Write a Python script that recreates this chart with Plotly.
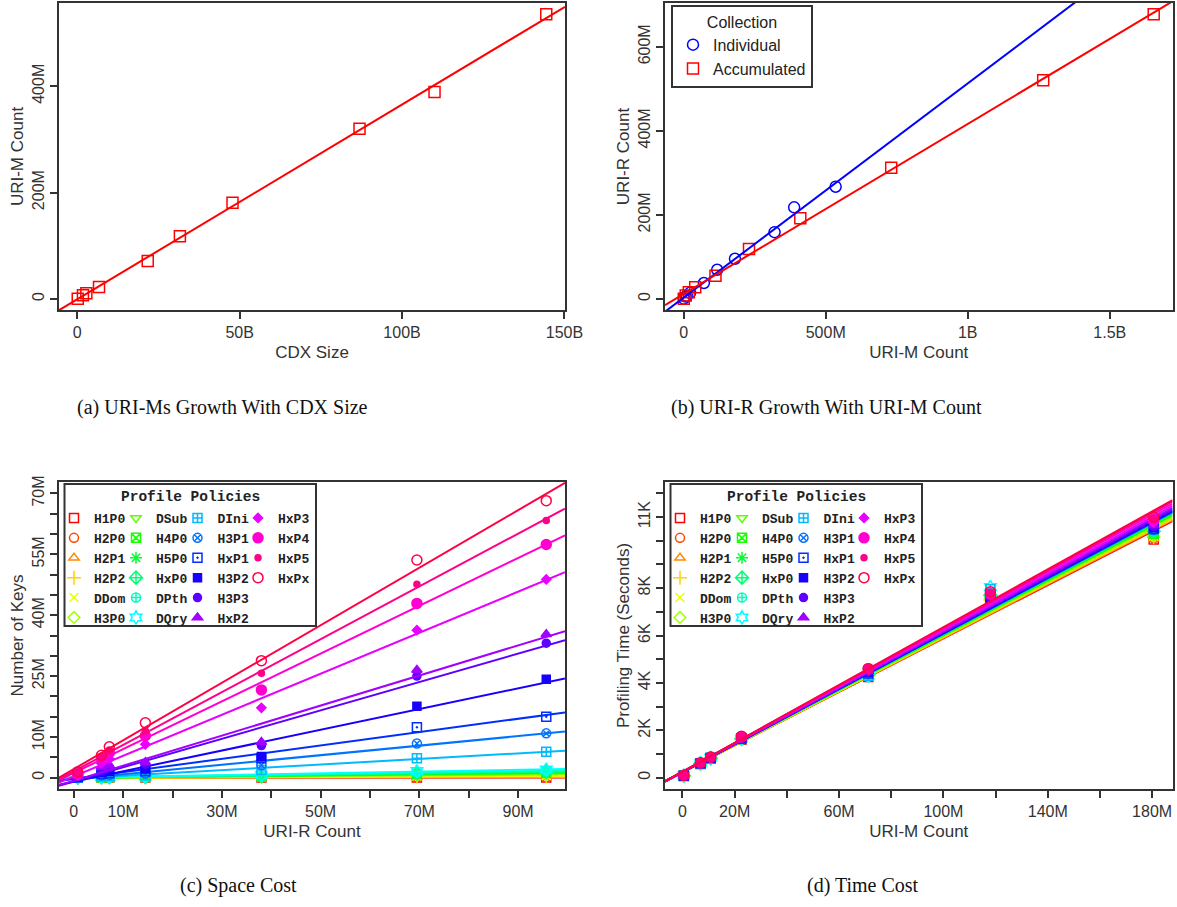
import colorsys
import numpy as np
import plotly.graph_objects as go

W, H = 1177, 907

# ---------------- (a) URI-Ms growth with CDX size ----------------
CDX_SIZE_B = [0.15, 1.75, 2.8, 6.7, 21.7, 31.6, 47.8, 86.9, 110.0, 144.4]
CDX_URIM_M = [0.5, 6.9, 10.8, 22.6, 71.2, 118.0, 180.6, 320.0, 389.0, 535.0]

# ---------------- (b) URI-R growth with URI-M count ----------------
IND_URIM_M = [0.5, 6.9, 10.8, 22.6, 71.2, 118.0, 180.6, 320.0, 389.0, 535.0]
IND_URIR_M = [0.8, 5.6, 7.2, 14.5, 38.0, 69.5, 95.7, 159.0, 218.0, 267.0]
ACC_URIM_M = [0.5, 7.4, 18.2, 40.8, 112.0, 230.0, 410.6, 730.6, 1265.6, 1654.6]
ACC_URIR_M = [0.8, 8.0, 16.0, 28.0, 55.0, 119.0, 192.0, 312.0, 520.0, 677.0]

# ---------------- (c) Space cost (number of keys, millions) ----------------
SPACE_URIR_M = [0.8, 5.6, 7.2, 14.5, 38.0, 69.5, 95.7]
KEYS_H1P0 = [0.001, 0.003, 0.004, 0.006, 0.01, 0.02, 0.03]
KEYS_H2P0 = [0.001, 0.005, 0.006, 0.01, 0.03, 0.07, 0.1]
KEYS_H2P1 = [0.002, 0.008, 0.01, 0.02, 0.05, 0.12, 0.18]
KEYS_H2P2 = [0.003, 0.01, 0.02, 0.04, 0.08, 0.2, 0.3]
KEYS_DDom = [0.005, 0.02, 0.03, 0.06, 0.12, 0.35, 0.5]
KEYS_H3P0 = [0.01, 0.04, 0.05, 0.1, 0.2, 0.6, 0.8]
KEYS_DSub = [0.01, 0.05, 0.07, 0.12, 0.25, 0.75, 1.0]
KEYS_H4P0 = [0.01, 0.06, 0.08, 0.15, 0.3, 0.9, 1.2]
KEYS_H5P0 = [0.01, 0.07, 0.09, 0.18, 0.35, 1.0, 1.35]
KEYS_HxP0 = [0.01, 0.08, 0.1, 0.2, 0.4, 1.1, 1.5]
KEYS_DPth = [0.02, 0.1, 0.12, 0.25, 0.5, 1.3, 1.7]
KEYS_DQry = [0.02, 0.1, 0.15, 0.3, 0.6, 1.6, 2.0]
KEYS_DIni = [0.03, 0.3, 0.4, 0.6, 1.9, 4.8, 6.4]
KEYS_H3P1 = [0.05, 0.6, 0.7, 1.0, 3.1, 8.4, 10.9]
KEYS_HxP1 = [0.1, 0.9, 1.1, 1.6, 4.8, 12.4, 15.0]
KEYS_H3P2 = [0.15, 1.3, 1.6, 2.1, 5.2, 17.6, 24.2]
KEYS_H3P3 = [0.25, 2.2, 2.6, 3.3, 7.9, 25.0, 33.1]
KEYS_HxP2 = [0.3, 2.6, 3.0, 3.8, 8.8, 26.5, 35.3]
KEYS_HxP3 = [0.5, 3.5, 4.6, 8.2, 17.2, 36.3, 48.8]
KEYS_HxP4 = [0.9, 4.8, 6.2, 10.3, 21.6, 42.9, 57.4]
KEYS_HxP5 = [1.2, 5.2, 6.8, 11.5, 25.7, 47.6, 63.3]
KEYS_HxPx = [1.4, 5.5, 7.6, 13.5, 28.8, 53.6, 68.2]

# ---------------- (d) Time cost (profiling seconds, thousands) ----------------
TIME_URIM_M = [0.5, 6.9, 10.8, 22.6, 71.2, 118.0, 180.6]
TIME_H1P0 = [0.07, 0.58, 0.80, 1.60, 4.25, 7.45, 10.05]
TIME_H2P0 = [0.07, 0.58, 0.80, 1.60, 4.25, 7.50, 10.10]
TIME_H2P1 = [0.07, 0.58, 0.80, 1.60, 4.25, 7.50, 10.10]
TIME_H2P2 = [0.07, 0.59, 0.80, 1.62, 4.30, 7.50, 10.15]
TIME_DDom = [0.07, 0.59, 0.81, 1.62, 4.30, 7.55, 10.20]
TIME_H3P0 = [0.07, 0.59, 0.81, 1.62, 4.30, 7.55, 10.20]
TIME_DSub = [0.08, 0.60, 0.82, 1.63, 4.35, 7.60, 10.30]
TIME_H4P0 = [0.08, 0.60, 0.82, 1.63, 4.35, 7.60, 10.30]
TIME_H5P0 = [0.08, 0.60, 0.82, 1.64, 4.35, 7.65, 10.35]
TIME_HxP0 = [0.08, 0.60, 0.82, 1.64, 4.35, 7.70, 10.40]
TIME_DPth = [0.08, 0.60, 0.83, 1.65, 4.35, 7.80, 10.45]
TIME_DQry = [0.09, 0.61, 0.84, 1.66, 4.30, 8.05, 10.55]
TIME_DIni = [0.09, 0.61, 0.84, 1.66, 4.30, 7.95, 10.50]
TIME_H3P1 = [0.08, 0.60, 0.83, 1.65, 4.40, 7.60, 10.45]
TIME_HxP1 = [0.08, 0.60, 0.83, 1.65, 4.40, 7.60, 10.50]
TIME_H3P2 = [0.08, 0.61, 0.83, 1.65, 4.45, 7.55, 10.55]
TIME_H3P3 = [0.08, 0.61, 0.84, 1.66, 4.45, 7.60, 10.60]
TIME_HxP2 = [0.08, 0.61, 0.84, 1.67, 4.50, 7.65, 10.65]
TIME_HxP3 = [0.09, 0.62, 0.85, 1.70, 4.55, 7.70, 10.75]
TIME_HxP4 = [0.09, 0.62, 0.86, 1.72, 4.60, 7.75, 10.85]
TIME_HxP5 = [0.09, 0.63, 0.86, 1.74, 4.60, 7.80, 10.95]
TIME_HxPx = [0.10, 0.63, 0.87, 1.75, 4.60, 7.85, 11.00]

POLICIES = ["H1P0", "H2P0", "H2P1", "H2P2", "DDom", "H3P0",
            "DSub", "H4P0", "H5P0", "HxP0", "DPth", "DQry",
            "DIni", "H3P1", "HxP1", "H3P2", "H3P3", "HxP2",
            "HxP3", "HxP4", "HxP5", "HxPx"]
KEYS = [KEYS_H1P0, KEYS_H2P0, KEYS_H2P1, KEYS_H2P2, KEYS_DDom, KEYS_H3P0,
        KEYS_DSub, KEYS_H4P0, KEYS_H5P0, KEYS_HxP0, KEYS_DPth, KEYS_DQry,
        KEYS_DIni, KEYS_H3P1, KEYS_HxP1, KEYS_H3P2, KEYS_H3P3, KEYS_HxP2,
        KEYS_HxP3, KEYS_HxP4, KEYS_HxP5, KEYS_HxPx]
TIMES = [TIME_H1P0, TIME_H2P0, TIME_H2P1, TIME_H2P2, TIME_DDom, TIME_H3P0,
         TIME_DSub, TIME_H4P0, TIME_H5P0, TIME_HxP0, TIME_DPth, TIME_DQry,
         TIME_DIni, TIME_H3P1, TIME_HxP1, TIME_H3P2, TIME_H3P3, TIME_HxP2,
         TIME_HxP3, TIME_HxP4, TIME_HxP5, TIME_HxPx]

# ---------------- tick labels ----------------
A_XTICKS, A_XTEXT = [0, 50, 100, 150], ["0", "50B", "100B", "150B"]
A_YTICKS, A_YTEXT = [0, 200, 400], ["0", "200M", "400M"]
B_XTICKS, B_XTEXT = [0, 500, 1000, 1500], ["0", "500M", "1B", "1.5B"]
B_YTICKS, B_YTEXT = [0, 200, 400, 600], ["0", "200M", "400M", "600M"]
C_XTICKS = [0, 10, 20, 30, 40, 50, 60, 70, 80, 90, 100]
C_XTEXT = ["0", "10M", "", "30M", "", "50M", "", "70M", "", "90M", ""]
C_YTICKS = [0, 5, 10, 15, 20, 25, 30, 35, 40, 45, 50, 55, 60, 65, 70]
C_YTEXT = ["0", "", "10M", "", "", "25M", "", "", "40M", "", "", "55M", "", "", "70M"]
D_XTICKS = [0, 20, 40, 60, 80, 100, 120, 140, 160, 180]
D_XTEXT = ["0", "20M", "", "60M", "", "100M", "", "140M", "", "180M"]
D_YTICKS = [0, 1, 2, 3, 4, 5, 6, 7, 8, 9, 10, 11, 12]
D_YTEXT = ["0", "", "2K", "", "4K", "", "6K", "", "8K", "", "", "11K", ""]
C_YLIM = [0, 70]
D_YLIM = [0, 12]

# ---------------- styles ----------------
SYMBOLS = ["square-open", "circle-open", "triangle-up-open", "cross-thin-open",
           "x-thin-open", "diamond-open", "triangle-down-open", "square-x-open",
           "asterisk-open", "diamond-cross-open", "circle-cross-open", "hexagram-open",
           "square-cross-open", "circle-x-open", "square-open-dot", "square",
           "circle", "triangle-up", "diamond", "circle", "circle", "circle-open"]
SIZES = [9, 9, 9, 10, 9, 9, 9, 9, 10, 10, 9, 10,
         9, 9, 9, 8, 8, 9, 7, 10, 6, 10]


def rainbow(n):
    out = []
    for i in range(n):
        r, g, b = colorsys.hsv_to_rgb(i / n, 1, 1)
        out.append(f"rgb({round(r*255)},{round(g*255)},{round(b*255)})")
    return out


COLORS = rainbow(len(POLICIES))


def r_range(lo, hi):
    d = hi - lo
    return [lo - 0.04 * d, hi + 0.04 * d]


def fit_line(x, y, xr):
    b, a = np.polyfit(np.asarray(x, float), np.asarray(y, float), 1)
    return list(xr), [a + b * xr[0], a + b * xr[1]]


def px_x(p):
    return p / W


def px_y(p):
    return 1 - p / H


TICK_FONT = dict(family="Liberation Sans, Arial, sans-serif", size=16, color="#333")
TITLE_FONT = dict(family="Liberation Sans, Arial, sans-serif", size=17, color="#333")
LEG_FONT = dict(family="Liberation Mono, Courier New, monospace", size=13, color="#222", weight="bold")

fig = go.Figure()

# ---- (a)
ax_a = r_range(min(CDX_SIZE_B), max(CDX_SIZE_B))
fig.add_trace(go.Scatter(x=CDX_SIZE_B, y=CDX_URIM_M, mode="markers", xaxis="x", yaxis="y",
                         marker=dict(symbol="square-open", size=11, color="red", line=dict(width=1.5)),
                         showlegend=False, name="URI-M"))
lx, ly = fit_line(CDX_SIZE_B, CDX_URIM_M, ax_a)
fig.add_trace(go.Scatter(x=lx, y=ly, mode="lines", xaxis="x", yaxis="y",
                         line=dict(color="red", width=2), showlegend=False, hoverinfo="skip"))

# ---- (b)
ax_b = r_range(min(ACC_URIM_M + IND_URIM_M), max(ACC_URIM_M + IND_URIM_M))
fig.add_trace(go.Scatter(x=IND_URIM_M, y=IND_URIR_M, mode="markers", xaxis="x2", yaxis="y2",
                         marker=dict(symbol="circle-open", size=11, color="blue", line=dict(width=1.5)),
                         name="Individual", legend="legend"))
fig.add_trace(go.Scatter(x=ACC_URIM_M, y=ACC_URIR_M, mode="markers", xaxis="x2", yaxis="y2",
                         marker=dict(symbol="square-open", size=11, color="red", line=dict(width=1.5)),
                         name="Accumulated", legend="legend"))
lx, ly = fit_line(IND_URIM_M, IND_URIR_M, ax_b)
fig.add_trace(go.Scatter(x=lx, y=ly, mode="lines", xaxis="x2", yaxis="y2",
                         line=dict(color="blue", width=2), showlegend=False, hoverinfo="skip"))
lx, ly = fit_line(ACC_URIM_M, ACC_URIR_M, ax_b)
fig.add_trace(go.Scatter(x=lx, y=ly, mode="lines", xaxis="x2", yaxis="y2",
                         line=dict(color="red", width=2), showlegend=False, hoverinfo="skip"))

# ---- (c) and (d)
ax_c = r_range(min(SPACE_URIR_M), max(SPACE_URIR_M))
ax_d = r_range(min(TIME_URIM_M), max(TIME_URIM_M))
COLS = [(0, 6), (6, 12), (12, 18), (18, 22)]


def legend_of(i, base):
    for k, (s, e) in enumerate(COLS):
        if s <= i < e:
            return f"legend{base + k}"


for i, pol in enumerate(POLICIES):
    col = COLORS[i]
    mk = dict(symbol=SYMBOLS[i], size=SIZES[i], color=col, line=dict(width=1.5, color=col))
    # (c)
    lx, ly = fit_line(SPACE_URIR_M, KEYS[i], ax_c)
    fig.add_trace(go.Scatter(x=lx, y=ly, mode="lines", xaxis="x3", yaxis="y3",
                             line=dict(color=col, width=2), showlegend=False, hoverinfo="skip"))
    fig.add_trace(go.Scatter(x=SPACE_URIR_M, y=KEYS[i], mode="markers", xaxis="x3", yaxis="y3",
                             marker=mk, name=pol, legend=legend_of(i, 2)))
    # (d)
    lx, ly = fit_line(TIME_URIM_M, TIMES[i], ax_d)
    fig.add_trace(go.Scatter(x=lx, y=ly, mode="lines", xaxis="x4", yaxis="y4",
                             line=dict(color=col, width=2), showlegend=False, hoverinfo="skip"))
    fig.add_trace(go.Scatter(x=TIME_URIM_M, y=TIMES[i], mode="markers", xaxis="x4", yaxis="y4",
                             marker=mk, name=pol, legend=legend_of(i, 6)))


def axis_style(**kw):
    d = dict(showline=True, mirror=True, linecolor="#333", linewidth=2, ticks="outside",
             ticklen=7, tickwidth=1.5, tickcolor="#333", showgrid=False, zeroline=False,
             tickfont=TICK_FONT, automargin=False, fixedrange=True)
    d.update(kw)
    return d


TOP_PANEL = [px_y(310), px_y(3)]
BOT_PANEL = [px_y(789), px_y(482)]
LEFT_PANEL = [px_x(59), px_x(565)]
RIGHT_PANEL = [px_x(665), px_x(1172.5)]

layout = dict(
    width=W, height=H, margin=dict(l=0, r=0, t=0, b=0), template="none",
    paper_bgcolor="white", plot_bgcolor="white",
    xaxis=axis_style(domain=LEFT_PANEL, anchor="y", range=ax_a, tickvals=A_XTICKS, ticktext=A_XTEXT,
                     title=dict(text="CDX Size", font=TITLE_FONT, standoff=6)),
    yaxis=axis_style(domain=TOP_PANEL, anchor="x", range=r_range(min(CDX_URIM_M), max(CDX_URIM_M)),
                     tickvals=A_YTICKS, ticktext=A_YTEXT, tickangle=-90,
                     title=dict(text="URI-M Count", font=TITLE_FONT, standoff=2)),
    xaxis2=axis_style(domain=RIGHT_PANEL, anchor="y2", range=ax_b, tickvals=B_XTICKS, ticktext=B_XTEXT,
                      title=dict(text="URI-M Count", font=TITLE_FONT, standoff=6)),
    yaxis2=axis_style(domain=TOP_PANEL, anchor="x2",
                      range=r_range(min(ACC_URIR_M + IND_URIR_M), max(ACC_URIR_M + IND_URIR_M)),
                      tickvals=B_YTICKS, ticktext=B_YTEXT, tickangle=-90,
                      title=dict(text="URI-R Count", font=TITLE_FONT, standoff=2)),
    xaxis3=axis_style(domain=LEFT_PANEL, anchor="y3", range=ax_c, tickvals=C_XTICKS, ticktext=C_XTEXT,
                      title=dict(text="URI-R Count", font=TITLE_FONT, standoff=6)),
    yaxis3=axis_style(domain=BOT_PANEL, anchor="x3", range=r_range(*C_YLIM),
                      tickvals=C_YTICKS, ticktext=C_YTEXT, tickangle=-90,
                      title=dict(text="Number of Keys", font=TITLE_FONT, standoff=2)),
    xaxis4=axis_style(domain=RIGHT_PANEL, anchor="y4", range=ax_d, tickvals=D_XTICKS, ticktext=D_XTEXT,
                      title=dict(text="URI-M Count", font=TITLE_FONT, standoff=6)),
    yaxis4=axis_style(domain=BOT_PANEL, anchor="x4", range=r_range(*D_YLIM),
                      tickvals=D_YTICKS, ticktext=D_YTEXT, tickangle=-90,
                      title=dict(text="Profiling Time (Seconds)", font=TITLE_FONT, standoff=2)),
    legend=dict(x=px_x(671), y=px_y(5), xanchor="left", yanchor="top",
                bgcolor="white", bordercolor="#333", borderwidth=2,
                font=dict(family="Liberation Sans, Arial, sans-serif", size=16, color="#222"),
                title=dict(text="Collection", side="top center",
                           font=dict(family="Liberation Sans, Arial, sans-serif", size=16, color="#222"))),
)

COL_SYM_X = [74, 136, 197.5, 258]
for panel, base, dx in (("c", 2, 0), ("d", 6, 606)):
    for k, sx in enumerate(COL_SYM_X):
        layout[f"legend{base + k}"] = dict(
            x=px_x(sx + dx - 20), y=px_y(503), xanchor="left", yanchor="top",
            bgcolor="rgba(0,0,0,0)", borderwidth=0, font=LEG_FONT,
            itemclick=False, itemdoubleclick=False)

shapes = []
annotations = []
for dx in (0, 606):
    shapes.append(dict(type="rect", xref="paper", yref="paper", layer="above",
                       x0=px_x(64.5 + dx), x1=px_x(316 + dx), y0=px_y(626), y1=px_y(484),
                       line=dict(color="#333", width=2), fillcolor="white"))
    annotations.append(dict(text="Profile Policies", xref="paper", yref="paper",
                            x=px_x(190 + dx), y=px_y(497), xanchor="center", yanchor="middle",
                            showarrow=False,
                            font=dict(family="Liberation Mono, Courier New, monospace", size=14.5,
                                      color="#222", weight="bold")))

CAPTIONS = [("(a) URI-Ms Growth With CDX Size", 222, 407),
            ("(b) URI-R Growth With URI-M Count", 826, 407),
            ("(c) Space Cost", 238, 885),
            ("(d) Time Cost", 863, 885)]
for text, cx, cy in CAPTIONS:
    annotations.append(dict(text=text, xref="paper", yref="paper", x=px_x(cx), y=px_y(cy),
                            xanchor="center", yanchor="middle", showarrow=False,
                            font=dict(family="Liberation Serif, Times New Roman, serif", size=20,
                                      color="#111")))

layout["shapes"] = shapes
layout["annotations"] = annotations
fig.update_layout(**layout)

fig.write_html("out.html", config={"displayModeBar": False},
               post_script="document.body.style.margin='0';")
